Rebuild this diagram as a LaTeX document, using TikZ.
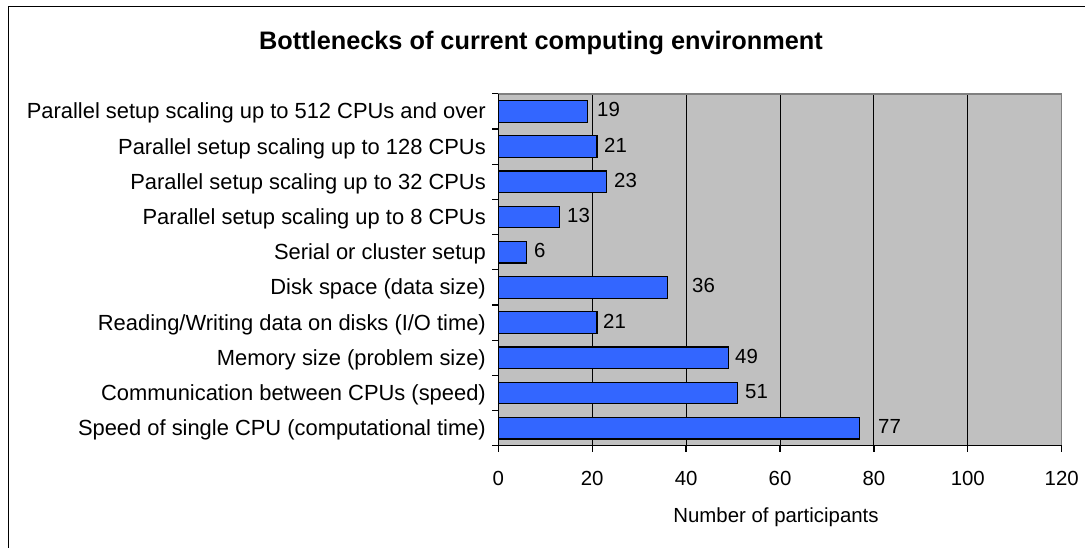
\documentclass[tikz,border=0pt]{standalone}
\usepackage{fontspec}
\setmainfont{Liberation Sans}
\definecolor{plotgray}{HTML}{C0C0C0}
\definecolor{barblue}{HTML}{3366FF}
\definecolor{edgegray}{HTML}{808080}
\tikzset{
  catlabel/.style={anchor=base east, inner sep=0pt, font=\fontsize{21.9}{23}\selectfont},
  vallabel/.style={anchor=west, inner sep=0pt, font=\fontsize{20.4}{22}\selectfont},
  ticklabel/.style={anchor=base, inner sep=0pt, font=\fontsize{20.4}{22}\selectfont},
  barbox/.style={draw=black, line width=1.3pt, fill=barblue},
  gridline/.style={draw=black, line width=1pt},
  axisline/.style={draw=black, line width=1.3pt},
}
\begin{document}
\begin{tikzpicture}[x=1pt,y=-1pt]
  \useasboundingbox (0,0) rectangle (1085,548);
  \clip (0,0) rectangle (1085,548);
  \fill[white] (0,0) rectangle (1085,548);
  % chart frame
  \draw[black, line width=1.2pt] (8.7,6.7) rectangle (1095,560);
  % title
  \node[anchor=base, inner sep=0pt, font=\bfseries\fontsize{25.3}{27}\selectfont] (title) at (541,50) {Bottlenecks of current computing environment};
  % plot area
  \def\xl{498.3}\def\xr{1061.7}\def\yt{93.8}\def\yb{445.8}
  \def\u{4.695}\def\c{35.2}
  \fill[plotgray] (\xl,\yt) rectangle (\xr,\yb);
  \foreach \v in {20,40,...,100}
    \draw[gridline] ({\xl+\v*\u},\yt) -- ({\xl+\v*\u},\yb);
  \draw[edgegray, line width=1.5pt] (\xl,\yt) -- (\xr,\yt) -- (\xr,\yb);
  % bars with values
  \foreach \i/\v/\lx/\t in {
      0/19/597/{Parallel setup scaling up to 512 CPUs and over},
      1/21/604/{Parallel setup scaling up to 128 CPUs},
      2/23/614/{Parallel setup scaling up to 32 CPUs},
      3/13/567/{Parallel setup scaling up to 8 CPUs},
      4/6/534/{Serial or cluster setup},
      5/36/692/{Disk space (data size)},
      6/21/603/{Reading/Writing data on disks (I/O time)},
      7/49/735/{Memory size (problem size)},
      8/51/745/{Communication between CPUs (speed)},
      9/77/878/{Speed of single CPU (computational time)}} {
    \pgfmathsetmacro{\yc}{\yt+\c*(\i+0.5)}
    \draw[barbox] (\xl,{\yc-10.8}) rectangle ({\xl+\v*\u},{\yc+10.8});
    \node[vallabel] (val\i) at (\lx,{\yc-1.5}) {\v};
    \node[catlabel] (cat\i) at (486,{\yc+7.5}) {\t};
  }
  % axes and ticks
  \draw[axisline] (\xl,\yt) -- (\xl,\yb) -- (\xr,\yb);
  \foreach \k in {0,...,10}
    \draw[axisline] ({\xl-6},{\yt+\c*\k}) -- (\xl,{\yt+\c*\k});
  \foreach \v in {0,20,...,120} {
    \draw[axisline] ({\xl+\v*\u},\yb) -- ({\xl+\v*\u},{\yb+6});
    \node[ticklabel] (tick\v) at ({\xl+\v*\u},485) {\v};
  }
  \node[ticklabel] (xtitle) at (776,522.5) {Number of participants};
\end{tikzpicture}
\end{document}
